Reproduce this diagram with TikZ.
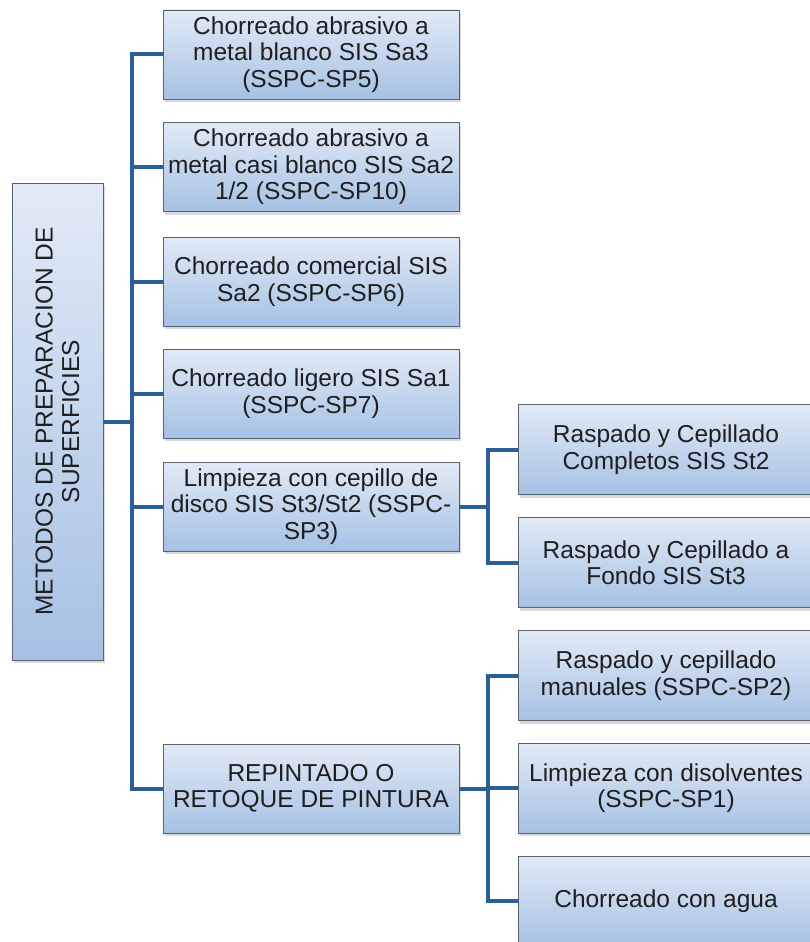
\documentclass[tikz,border=0pt]{standalone}
\usepackage{fontspec}
\setmainfont{Liberation Sans}
\usetikzlibrary{shadows}
\definecolor{boxtop}{RGB}{226,234,246}
\definecolor{boxbot}{RGB}{166,193,228}
\definecolor{boxedge}{RGB}{88,98,112}
\definecolor{linkblue}{RGB}{43,95,150}
\tikzset{
  card/.style={draw=boxedge, line width=0.9pt, top color=boxtop, bottom color=boxbot,
    drop shadow={opacity=0.3, shadow xshift=2pt, shadow yshift=-3pt},
    align=center, inner sep=1pt, text=black!88,
    font=\fontsize{24.5}{26.5}\selectfont},
  lvlone/.style={card, minimum width=296pt, minimum height=89pt},
  lvltwo/.style={card, minimum width=296pt, minimum height=90pt},
  link/.style={draw=linkblue, line width=4pt}
}
\begin{document}
\begin{tikzpicture}[x=1pt, y=-1pt]
\useasboundingbox (0,0) rectangle (809,942);

% root box, text turned to read upwards
\node[card, minimum width=477pt, minimum height=91pt, rotate=90]
  (root) at (57.5,421.5) {METODOS DE PREPARACION DE\\SUPERFICIES};

% first level
\node[lvlone] (b1) at (311,54.5) {Chorreado abrasivo a\\metal blanco SIS Sa3\\(SSPC-SP5)};
\node[lvlone] (b2) at (311,167) {Chorreado abrasivo a\\metal casi blanco SIS Sa2\\1/2 (SSPC-SP10)};
\node[lvlone] (b3) at (311,281.5) {Chorreado comercial SIS\\Sa2 (SSPC-SP6)};
\node[lvlone] (b4) at (311,393.5) {Chorreado ligero SIS Sa1\\(SSPC-SP7)};
\node[lvlone] (b5) at (311,506.5) {Limpieza con cepillo de\\disco SIS St3/St2 (SSPC-\\SP3)};
\node[lvlone] (b6) at (311,788.5) {REPINTADO O\\RETOQUE DE PINTURA};

% second level
\node[lvltwo] (s1) at (666,449.5) {Raspado y Cepillado\\Completos SIS St2};
\node[lvltwo] (s2) at (666,562.5) {Raspado y Cepillado a\\Fondo SIS St3};
\node[lvltwo] (s3) at (666,675.5) {Raspado y cepillado\\manuales (SSPC-SP2)};
\node[lvltwo] (s4) at (666,788) {Limpieza con disolventes\\(SSPC-SP1)};
\node[lvltwo] (s5) at (666,901) {Chorreado con agua};

% elbow links
\foreach \c in {b1,b2,b3,b4,b5,b6}
  \draw[link] (root.south) -- ++(29,0) |- (\c.west);
\foreach \c in {s1,s2}
  \draw[link] (b5.east) -- ++(29,0) |- (\c.west);
\foreach \c in {s3,s4,s5}
  \draw[link] (b6.east) -- ++(29,0) |- (\c.west);
\end{tikzpicture}
\end{document}
